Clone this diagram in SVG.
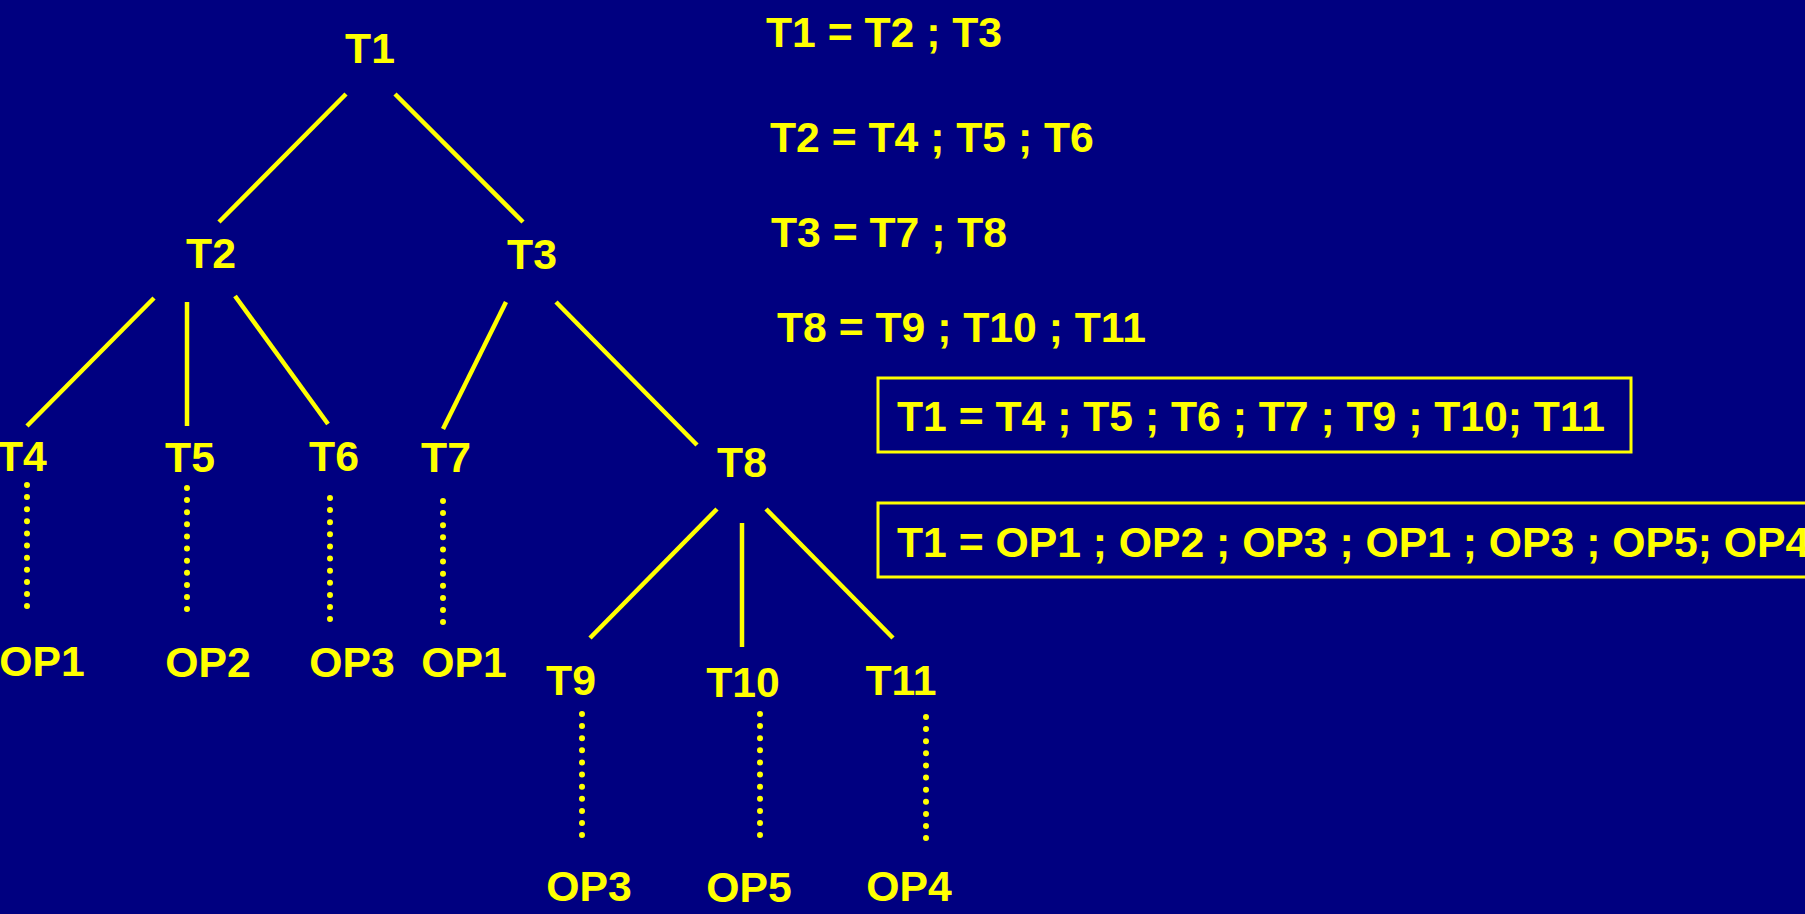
<svg xmlns="http://www.w3.org/2000/svg" width="1805" height="914" viewBox="0 0 1805 914">
  <style>
    .lbl { font-family: "Liberation Sans", Arial, sans-serif; font-weight: bold; font-size: 42.7px; fill: #FFFF00; }
    .mid { text-anchor: middle; }
    .edge { stroke: #FFFF00; stroke-width: 4.5; stroke-linecap: butt; fill: none; }
    .dots { stroke: #FFFF00; stroke-width: 6; stroke-linecap: round; stroke-dasharray: 0.01 12.1; fill: none; }
    .box { stroke: #FFFF00; stroke-width: 3; fill: none; }
  </style>
  <rect x="0" y="0" width="1805" height="914" fill="#000080"/>

  <!-- tree edges -->
  <g id="connectors">
    <line class="edge" x1="346" y1="94" x2="219" y2="222"/>
    <line class="edge" x1="395" y1="94" x2="523" y2="222"/>
    <line class="edge" x1="154" y1="298" x2="27" y2="426"/>
    <line class="edge" x1="187" y1="302" x2="187" y2="426"/>
    <line class="edge" x1="235" y1="296" x2="328" y2="424"/>
    <line class="edge" x1="506" y1="302" x2="443" y2="429"/>
    <line class="edge" x1="556" y1="302" x2="697" y2="445"/>
    <line class="edge" x1="717" y1="509" x2="590" y2="638"/>
    <line class="edge" x1="742" y1="523" x2="742" y2="647"/>
    <line class="edge" x1="766" y1="509" x2="893" y2="638"/>
    <!-- dotted links from leaves to operations -->
    <line class="dots" x1="27" y1="485" x2="27" y2="607"/>
    <line class="dots" x1="187" y1="488" x2="187" y2="610"/>
    <line class="dots" x1="330" y1="498" x2="330" y2="621"/>
    <line class="dots" x1="443" y1="501" x2="443" y2="624"/>
    <line class="dots" x1="582" y1="714" x2="582" y2="837"/>
    <line class="dots" x1="760" y1="714" x2="760" y2="838"/>
    <line class="dots" x1="926" y1="717" x2="926" y2="840"/>
  </g>

  <!-- task nodes -->
  <g id="n-T1"><text class="lbl mid" x="370" y="63">T1</text></g>
  <g id="n-T2"><text class="lbl mid" x="211" y="268">T2</text></g>
  <g id="n-T3"><text class="lbl mid" x="532" y="269">T3</text></g>
  <g id="n-T4"><text class="lbl" x="-3" y="471">T4</text></g>
  <g id="n-T5"><text class="lbl mid" x="190" y="472">T5</text></g>
  <g id="n-T6"><text class="lbl mid" x="334" y="471">T6</text></g>
  <g id="n-T7"><text class="lbl mid" x="446" y="472">T7</text></g>
  <g id="n-T8"><text class="lbl mid" x="742" y="477">T8</text></g>
  <g id="n-T9"><text class="lbl mid" x="571" y="695">T9</text></g>
  <g id="n-T10"><text class="lbl mid" x="743" y="697">T10</text></g>
  <g id="n-T11"><text class="lbl mid" x="901" y="695">T11</text></g>

  <!-- operation nodes -->
  <g id="n-OP1a"><text class="lbl mid" x="42" y="676">OP1</text></g>
  <g id="n-OP2"><text class="lbl mid" x="208" y="677">OP2</text></g>
  <g id="n-OP3a"><text class="lbl mid" x="352" y="677">OP3</text></g>
  <g id="n-OP1b"><text class="lbl mid" x="464" y="677">OP1</text></g>
  <g id="n-OP3b"><text class="lbl mid" x="589" y="901">OP3</text></g>
  <g id="n-OP5"><text class="lbl mid" x="749" y="902">OP5</text></g>
  <g id="n-OP4"><text class="lbl mid" x="909" y="901">OP4</text></g>

  <!-- decomposition equations -->
  <g id="eq1"><text class="lbl" x="766" y="47">T1 = T2 ; T3</text></g>
  <g id="eq2"><text class="lbl" x="770" y="152">T2 = T4 ; T5 ; T6</text></g>
  <g id="eq3"><text class="lbl" x="771" y="247">T3 = T7 ; T8</text></g>
  <g id="eq4"><text class="lbl" x="777" y="342">T8 = T9 ; T10 ; T11</text></g>

  <!-- flattened results -->
  <g id="res-tasks">
    <rect class="box" x="878" y="378" width="753" height="74"/>
    <text class="lbl" x="897" y="431">T1 = T4 ; T5 ; T6 ; T7 ; T9 ; T10; T11</text>
  </g>
  <g id="res-ops">
    <rect class="box" x="878" y="503" width="960" height="74"/>
    <text class="lbl" x="897" y="557">T1 = OP1 ; OP2 ; OP3 ; OP1 ; OP3 ; OP5; OP4</text>
  </g>
</svg>
